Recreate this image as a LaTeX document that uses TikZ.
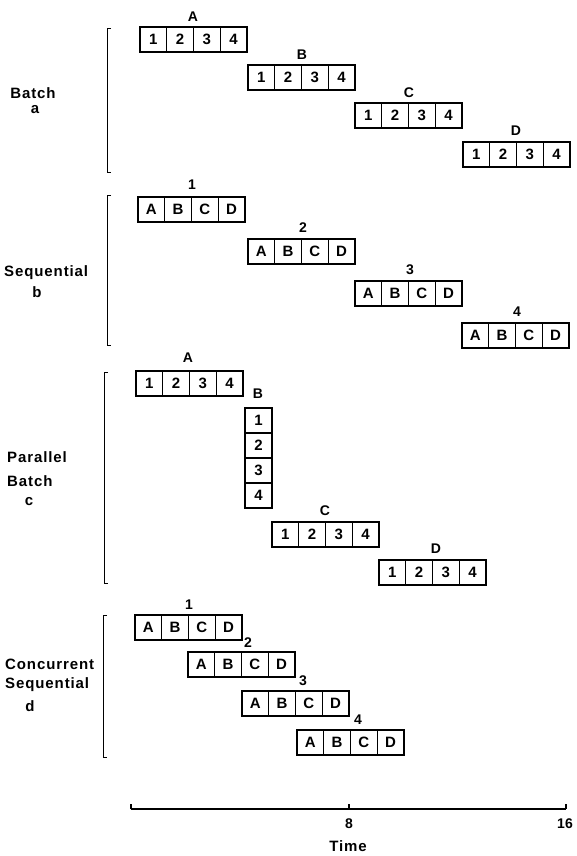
\documentclass[tikz,border=0pt]{standalone}
\usepackage{fontspec}
\setmainfont{Liberation Sans}
\newfontfamily\sidefam[LetterSpace=6]{Liberation Sans}
\newcommand{\cellfont}{\fontsize{15}{17}\selectfont\bfseries}
\newcommand{\lblfont}{\fontsize{14}{16}\selectfont\bfseries}
\newcommand{\sidefont}{\sidefam\fontsize{15}{17}\selectfont\bfseries}
\newcommand{\cellrow}[7]{%
  \foreach \ct [count=\ci from 0] in {#4} {
    \node[cell] (#1-\ci) at ({#2+26.75*\ci+13.375},{#3+12.5}) {\ct};
  }
  \node[lbl] (#1-t) at (#6,#7) {#5};
}
\begin{document}
\begin{tikzpicture}[x=1pt,y=-1pt,
  cell/.style={draw, line width=1.3pt, minimum width=26.75pt, minimum height=25pt, inner sep=0pt, font=\cellfont},
  vcell/.style={cell, minimum width=27pt},
  lbl/.style={inner sep=0pt, font=\lblfont},
  side/.style={inner sep=0pt, font=\sidefont},
  brk/.style={line width=1pt},
  axis/.style={line width=1.1pt}]
\useasboundingbox (0,0) rectangle (576,856);

% ---------- (a) Batch ----------
\draw[brk] (111,29) -- (107,29) -- (107,172) -- (111,172);
\node[side] (la1) at (33,93) {Batch};
\node[side] (la2) at (35,110) {a};
\cellrow{aA}{140}{27}{1,2,3,4}{A}{193}{17}
\cellrow{aB}{248}{65}{1,2,3,4}{B}{302}{55}
\cellrow{aC}{355}{103}{1,2,3,4}{C}{409}{93}
\cellrow{aD}{463}{142}{1,2,3,4}{D}{516}{131}

% ---------- (b) Sequential ----------
\draw[brk] (111,195) -- (107,195) -- (107,345) -- (111,345);
\node[side, anchor=west] (lb1) at (4,273) {Sequential};
\node[side] (lb2) at (37,292) {b};
\cellrow{b1}{138}{197}{A,B,C,D}{1}{192}{185}
\cellrow{b2}{248}{239}{A,B,C,D}{2}{303}{228}
\cellrow{b3}{355}{281}{A,B,C,D}{3}{410}{270}
\cellrow{b4}{462}{323}{A,B,C,D}{4}{517}{312}

% ---------- (c) Parallel Batch ----------
\draw[brk] (108,372) -- (104,372) -- (104,583) -- (108,583);
\node[side, anchor=west] (lc1) at (7,457) {Parallel};
\node[side, anchor=west] (lc2) at (7,481) {Batch};
\node[side] (lc3) at (29,502) {c};
\cellrow{cA}{136}{371}{1,2,3,4}{A}{188}{358}
\foreach \ct [count=\ci from 0] in {1,2,3,4} {
  \node[vcell] (cB-\ci) at (258.5,{408+25*\ci+12.5}) {\ct};
}
\node[lbl] (cB-t) at (258,394) {B};
\cellrow{cC}{272}{522}{1,2,3,4}{C}{325}{511}
\cellrow{cD}{379}{560}{1,2,3,4}{D}{436}{549}

% ---------- (d) Concurrent Sequential ----------
\draw[brk] (107,615) -- (103,615) -- (103,757) -- (107,757);
\node[side, anchor=west] (ld1) at (5,664) {Concurrent};
\node[side, anchor=west] (ld2) at (5,685) {Sequential};
\node[side] (ld3) at (30,706) {d};
\cellrow{d1}{135}{615}{A,B,C,D}{1}{189}{605}
\cellrow{d2}{188}{652}{A,B,C,D}{2}{248}{643}
\cellrow{d3}{242}{691}{A,B,C,D}{3}{303}{681}
\cellrow{d4}{297}{730}{A,B,C,D}{4}{358}{720}

% ---------- Time axis ----------
\coordinate (t0) at (131,809);
\coordinate (t8) at (349,809);
\coordinate (t16) at (566,809);
\draw[axis] (t0) -- (t16);
\draw[axis] (t0) -- ++(0,-5);
\draw[axis] (t8) -- ++(0,-5);
\draw[axis] (t16) -- ++(0,-5);
\node[lbl] (n8) at (349,824) {8};
\node[lbl] (n16) at (565,824) {16};
\node[side] (time) at (348,846) {Time};
\end{tikzpicture}
\end{document}
